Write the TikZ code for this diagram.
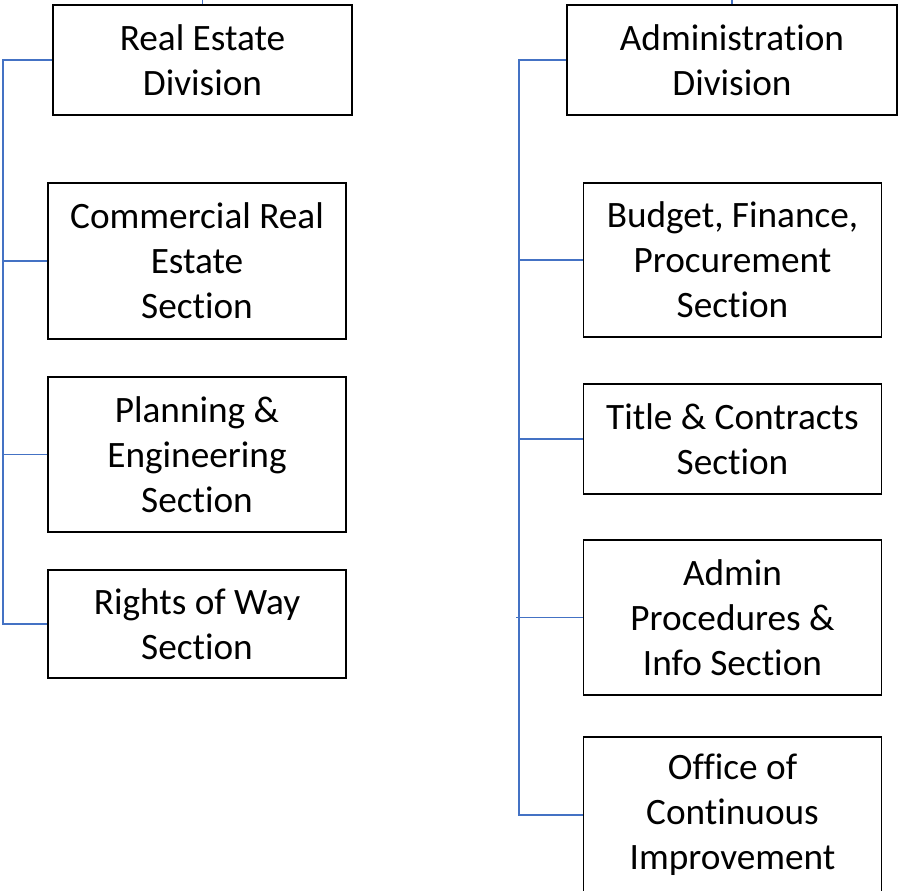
\documentclass[tikz,border=0pt]{standalone}
\usepackage{fontspec}
\setmainfont{Carlito}[Ligatures={NoCommon,NoRequired,NoContextual}]
\usepackage{xcolor}
\usepackage{tikz}
\usetikzlibrary{positioning}
\definecolor{linkblue}{HTML}{4472C4}

\begin{document}
\begin{tikzpicture}
        % --- styles ---
        \tikzstyle{unit} = [
            rectangle,
            draw=black,
            line width=0.8pt,
            minimum width=5.96cm,
            inner sep=0pt,
            align=center,
            font=\fontsize{21.2}{25.6}\selectfont
        ]
        \tikzstyle{link} = [draw=linkblue, line width=0.6pt]

        \useasboundingbox (0,0) rectangle (17.96,-17.82);

        % --- left column (divisions and sections) ---
        \node (red) [unit, minimum width=5.98cm, minimum height=2.2cm] at (4.05,-1.2) {Real Estate\\Division};
        \node (cre) [unit, minimum height=3.12cm] at (3.94,-5.22) {Commercial Real\\Estate\\Section};
        \node (pe) [unit, minimum height=3.1cm] at (3.94,-9.09) {Planning \&\\Engineering\\Section};
        \node (row) [unit, minimum height=2.16cm] at (3.94,-12.48) {Rights of Way\\Section};

        % --- right column ---
        \node (ad) [unit, minimum width=6.6cm, minimum height=2.2cm] at (14.64,-1.2) {Administration\\Division};
        \node (bfp) [unit, minimum height=3.08cm] at (14.65,-5.2) {Budget, Finance,\\Procurement\\Section};
        \node (tc) [unit, minimum height=2.2cm] at (14.65,-8.78) {Title \& Contracts\\Section};
        \node (apis) [unit, minimum height=3.1cm] at (14.65,-12.35) {Admin\\Procedures \&\\Info Section};
        \node (oci) [unit, minimum height=3.12cm] at (14.65,-16.3) {Office of\\Continuous\\Improvement};

        % --- connections ---
        \coordinate (ltop) at (4.05,0);
        \coordinate (rtop) at (14.64,0);
        \coordinate (lbus) at (0.06,-12.48);
        \coordinate (rbus) at (10.38,-16.3);
        \coordinate (rtick) at (10.32,-12.35);

        \draw [link] (red.north) -- (ltop);
        \draw [link] (ad.north) -- (rtop);

        \draw [link] (red.west) -| (lbus) -- (row.west);
        \draw [link] (cre.west) -- (cre.west -| lbus);
        \draw [link] (pe.west) -- (pe.west -| lbus);

        \draw [link] (ad.west) -| (rbus) -- (oci.west);
        \draw [link] (bfp.west) -- (bfp.west -| rbus);
        \draw [link] (tc.west) -- (tc.west -| rbus);
        \draw [link] (apis.west) -- (rtick);
    \end{tikzpicture}
\end{document}
